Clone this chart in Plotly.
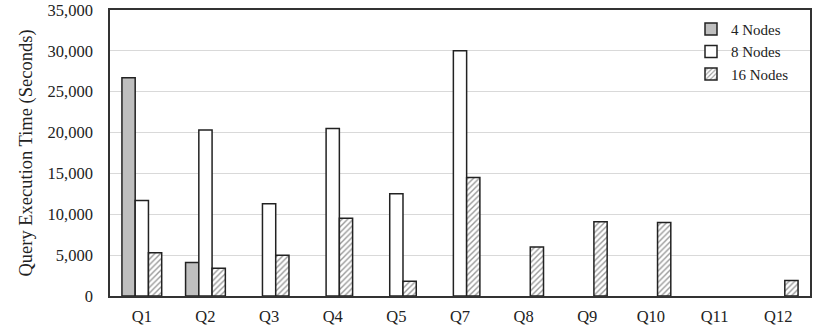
import plotly.graph_objects as go

categories = ["Q1", "Q2", "Q3", "Q4", "Q5", "Q7", "Q8", "Q9", "Q10", "Q11", "Q12"]
nodes4 = [26700, 4100, None, None, None, None, None, None, None, None, None]
nodes8 = [11700, 20300, 11300, 20500, 12500, 30000, None, None, None, None, None]
nodes16 = [5300, 3400, 5000, 9500, 1800, 14500, 6000, 9100, 9000, None, 1900]
y_ticks = [0, 5000, 10000, 15000, 20000, 25000, 30000, 35000]

FONT = "Liberation Serif"
line = dict(color="#222222", width=1.5)

fig = go.Figure()
fig.add_trace(go.Bar(name="4 Nodes", x=categories, y=nodes4,
                     marker=dict(color="#bfbfbf", line=line)))
fig.add_trace(go.Bar(name="8 Nodes", x=categories, y=nodes8,
                     marker=dict(color="#ffffff", line=line)))
fig.add_trace(go.Bar(name="16 Nodes", x=categories, y=nodes16,
                     marker=dict(color="#ffffff", line=line,
                                 pattern=dict(shape="/", fgcolor="#333333", bgcolor="#ffffff",
                                              size=4, solidity=0.35))))

fig.update_layout(
    width=831, height=326,
    margin=dict(l=110, r=21, t=10, b=30, autoexpand=False),
    paper_bgcolor="white", plot_bgcolor="white",
    barmode="group", bargap=0.375, bargroupgap=0,
    font=dict(family=FONT, size=16, color="#222222"),
    legend=dict(x=0.83, y=0.99, xanchor="left", yanchor="top",
                bgcolor="rgba(0,0,0,0)", font=dict(family=FONT, size=15),
                itemwidth=30),
    showlegend=True,
)
fig.update_xaxes(showline=True, linecolor="#333333", linewidth=1.5, mirror=True,
                 automargin=False,
                 ticks="", ticklabelstandoff=4, tickfont=dict(family=FONT, size=16.5))
fig.update_yaxes(range=[0, 35000], tickvals=y_ticks, tickformat=",",
                 showgrid=True, gridcolor="#d9d9d9", gridwidth=1,
                 showline=True, linecolor="#333333", linewidth=1.5, mirror=True,
                 automargin=False,
                 ticks="", ticklabelstandoff=12, ticklabeloverflow="allow",
                 tickfont=dict(family=FONT, size=16.5),
                 title=dict(text="Query Execution Time (Seconds)",
                            font=dict(family=FONT, size=18.5), standoff=10))

fig.write_html("out.html", config={"displayModeBar": False},
               post_script="document.body.style.margin='0';")
